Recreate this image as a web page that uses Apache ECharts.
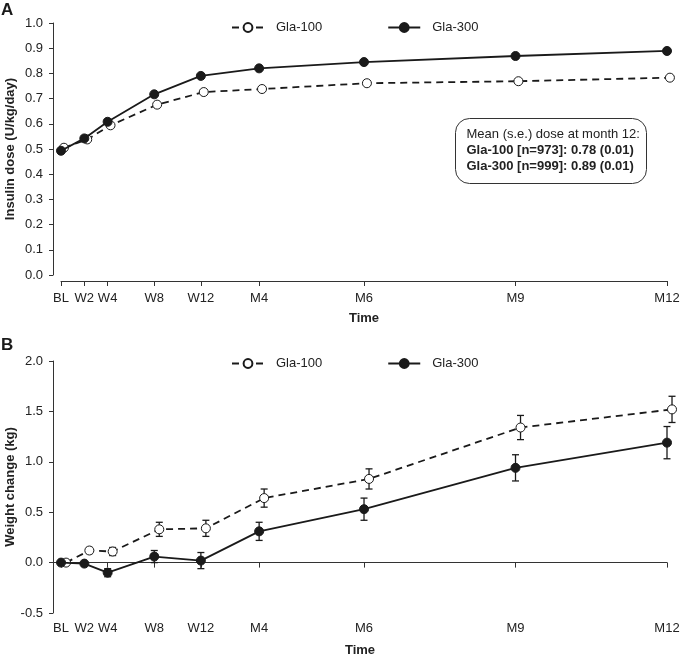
<!DOCTYPE html>
<html>
<head>
<meta charset="utf-8">
<title>Insulin dose and weight change</title>
<script src="https://cdn.jsdelivr.net/npm/echarts@6/dist/echarts.min.js"></script>
<style>
  html, body { margin: 0; padding: 0; background: #fff; }
  #main { width: 682px; height: 658px; }
</style>
</head>
<body>
<div id="main"></div>
<script>
// time points (weeks since baseline) and their tick labels
var timeLabels = ['BL', 'W2', 'W4', 'W8', 'W12', 'M4', 'M6', 'M9', 'M12'];
var timeWeeks = [0, 2, 4, 8, 12, 17, 26, 39, 52];

// panel A - insulin dose (U/kg/day)
var doseGla100 = [0.505, 0.538, 0.594, 0.676, 0.726, 0.738, 0.761, 0.769, 0.783];
var doseGla300 = [0.493, 0.542, 0.608, 0.717, 0.790, 0.820, 0.845, 0.869, 0.889];

// panel B - weight change (kg) and standard error
var weightGla100 = [0.00, 0.12, 0.11, 0.33, 0.34, 0.64, 0.83, 1.34, 1.52];
var weightGla100Se = [0.00, 0.03, 0.04, 0.07, 0.08, 0.09, 0.10, 0.12, 0.13];
var weightGla300 = [0.00, -0.01, -0.10, 0.06, 0.02, 0.31, 0.53, 0.94, 1.19];
var weightGla300Se = [0.00, 0.02, 0.04, 0.06, 0.08, 0.09, 0.11, 0.13, 0.16];

var ink = '#1a1a1a';
var font = 'Liberation Sans, Arial, Helvetica, sans-serif';

// small horizontal shift so the two groups don't sit on top of each other
var dodgeA = 0.25;
var dodgeB = 0.43;

function pts(vals, dodge) {
  return timeWeeks.map(function (w, i) { return [w + dodge, vals[i]]; });
}
function errPts(vals, se, dodge) {
  return timeWeeks.map(function (w, i) { return [w + dodge, vals[i] - se[i], vals[i] + se[i]]; });
}
function timeLabel(v) {
  var i = timeWeeks.indexOf(v);
  return i < 0 ? '' : timeLabels[i];
}

function renderErr(params, api) {
  var x = api.value(0);
  var lo = api.coord([x, api.value(1)]);
  var hi = api.coord([x, api.value(2)]);
  var c = 3.5;
  var st = { stroke: ink, lineWidth: 1.3 };
  return {
    type: 'group',
    children: [
      { type: 'line', shape: { x1: lo[0], y1: lo[1], x2: hi[0], y2: hi[1] }, style: st },
      { type: 'line', shape: { x1: lo[0] - c, y1: lo[1], x2: lo[0] + c, y2: lo[1] }, style: st },
      { type: 'line', shape: { x1: hi[0] - c, y1: hi[1], x2: hi[0] + c, y2: hi[1] }, style: st }
    ]
  };
}

var lineWidth = 1.8;
var openStyle = {
  symbol: 'circle', symbolSize: 9, clip: false,
  lineStyle: { color: ink, width: lineWidth, type: [7, 5] },
  itemStyle: { color: '#fff', borderColor: ink, borderWidth: 1 }
};
var fillStyle = {
  symbol: 'circle', symbolSize: 9, clip: false,
  lineStyle: { color: ink, width: lineWidth, type: 'solid' },
  itemStyle: { color: ink, borderColor: ink, borderWidth: 1 }
};

var axisLineStyle = { color: '#333', width: 1 };
var labelStyle = { color: '#222', fontSize: 13, fontFamily: font };
var nameStyle = { color: '#222', fontSize: 13, fontWeight: 'bold', fontFamily: font };

function legendAt(top) {
  return {
    top: top, left: 231, padding: 0,
    data: ['Gla-100', 'Gla-300'],
    itemWidth: 32, itemHeight: 11, itemGap: 65,
    selectedMode: false,
    textStyle: { color: '#222', fontSize: 13, fontFamily: font, padding: [0, 0, 0, 7] }
  };
}

// vertical axis title, drawn as plain rotated text
function yTitle(text, x, y) {
  return {
    type: 'text', x: x, y: y, rotation: Math.PI / 2,
    style: {
      text: text, fill: '#222', fontSize: 13, fontWeight: 'bold', fontFamily: font,
      align: 'center', verticalAlign: 'middle'
    }
  };
}

var chart = echarts.init(document.getElementById('main'));

var option = {
  animation: false,
  backgroundColor: '#fff',
  title: [
    { text: 'A', left: 1, top: 2, padding: 0, textStyle: { fontSize: 17, fontWeight: 'bold', color: ink, fontFamily: font } },
    { text: 'B', left: 1, top: 337, padding: 0, textStyle: { fontSize: 17, fontWeight: 'bold', color: ink, fontFamily: font } }
  ],
  legend: [legendAt(21), legendAt(357)],
  grid: [
    { left: 61, right: 15, top: 23, height: 252, outerBoundsMode: 'none' },
    { left: 53, right: 15, top: 361, height: 252, outerBoundsMode: 'none' }
  ],
  xAxis: [
    {
      gridIndex: 0, type: 'value', min: 0, max: 52, offset: 6,
      axisLine: { show: true, onZero: false, lineStyle: axisLineStyle },
      axisTick: { show: true, length: 5, customValues: timeWeeks, lineStyle: axisLineStyle },
      axisLabel: { customValues: timeWeeks, formatter: timeLabel, margin: 11, ...labelStyle },
      splitLine: { show: false },
      name: 'Time', nameLocation: 'middle', nameGap: 31, nameTextStyle: nameStyle
    },
    {
      // zero line with ticks
      gridIndex: 1, type: 'value', min: -0.69, max: 52, position: 'bottom',
      axisLine: { show: true, onZero: true, lineStyle: axisLineStyle },
      axisTick: { show: true, length: 5, customValues: timeWeeks, lineStyle: axisLineStyle },
      axisLabel: { show: false },
      splitLine: { show: false }
    },
    {
      // labels at the bottom of panel B
      gridIndex: 1, type: 'value', min: -0.69, max: 52, position: 'bottom',
      axisLine: { show: false, onZero: false },
      axisTick: { show: false },
      axisLabel: { customValues: timeWeeks, formatter: timeLabel, margin: 9, ...labelStyle },
      splitLine: { show: false },
      name: 'Time', nameLocation: 'middle', nameGap: 31, nameTextStyle: nameStyle
    }
  ],
  yAxis: [
    {
      gridIndex: 0, type: 'value', min: 0, max: 1, interval: 0.1, offset: 8,
      axisLine: { show: true, onZero: false, lineStyle: axisLineStyle },
      axisTick: { show: true, length: 4, lineStyle: axisLineStyle },
      axisLabel: { formatter: function (v) { return v.toFixed(1); }, margin: 10, ...labelStyle },
      splitLine: { show: false }
    },
    {
      gridIndex: 1, type: 'value', min: -0.5, max: 2, interval: 0.5,
      axisLine: { show: true, onZero: false, lineStyle: axisLineStyle },
      axisTick: { show: true, length: 4, lineStyle: axisLineStyle },
      axisLabel: { formatter: function (v) { return v.toFixed(1); }, margin: 10, ...labelStyle },
      splitLine: { show: false }
    }
  ],
  series: [
    Object.assign({ name: 'Gla-100', type: 'line', xAxisIndex: 0, yAxisIndex: 0, data: pts(doseGla100, dodgeA), z: 3 }, openStyle),
    Object.assign({ name: 'Gla-300', type: 'line', xAxisIndex: 0, yAxisIndex: 0, data: pts(doseGla300, 0), z: 4 }, fillStyle),
    {
      name: 'se100', type: 'custom', xAxisIndex: 1, yAxisIndex: 1, z: 1, clip: false,
      renderItem: renderErr, encode: { x: 0, y: [1, 2] }, data: errPts(weightGla100, weightGla100Se, dodgeB)
    },
    {
      name: 'se300', type: 'custom', xAxisIndex: 1, yAxisIndex: 1, z: 1, clip: false,
      renderItem: renderErr, encode: { x: 0, y: [1, 2] }, data: errPts(weightGla300, weightGla300Se, 0)
    },
    Object.assign({ name: 'Gla-100', type: 'line', xAxisIndex: 1, yAxisIndex: 1, data: pts(weightGla100, dodgeB), z: 3 }, openStyle),
    Object.assign({ name: 'Gla-300', type: 'line', xAxisIndex: 1, yAxisIndex: 1, data: pts(weightGla300, 0), z: 4 }, fillStyle)
  ],
  graphic: [
    yTitle('Insulin dose (U/kg/day)', 10, 149),
    yTitle('Weight change (kg)', 10, 487),
    {
      type: 'group', left: 455, top: 118,
      children: [
        { type: 'rect', shape: { x: 0, y: 0, width: 191, height: 65, r: 14 }, style: { fill: '#fff', stroke: '#333', lineWidth: 1 } },
        {
          type: 'text', x: 11, y: 8,
          style: {
            text: '{n|Mean (s.e.) dose at month 12:}\n{b|Gla-100 [n=973]: 0.78 (0.01)}\n{b|Gla-300 [n=999]: 0.89 (0.01)}',
            rich: {
              n: { fontSize: 13, lineHeight: 16, fontFamily: font, fill: '#222' },
              b: { fontSize: 13, lineHeight: 16, fontFamily: font, fontWeight: 'bold', fill: '#222' }
            }
          }
        }
      ]
    }
  ]
};

chart.setOption(option);
</script>
</body>
</html>
